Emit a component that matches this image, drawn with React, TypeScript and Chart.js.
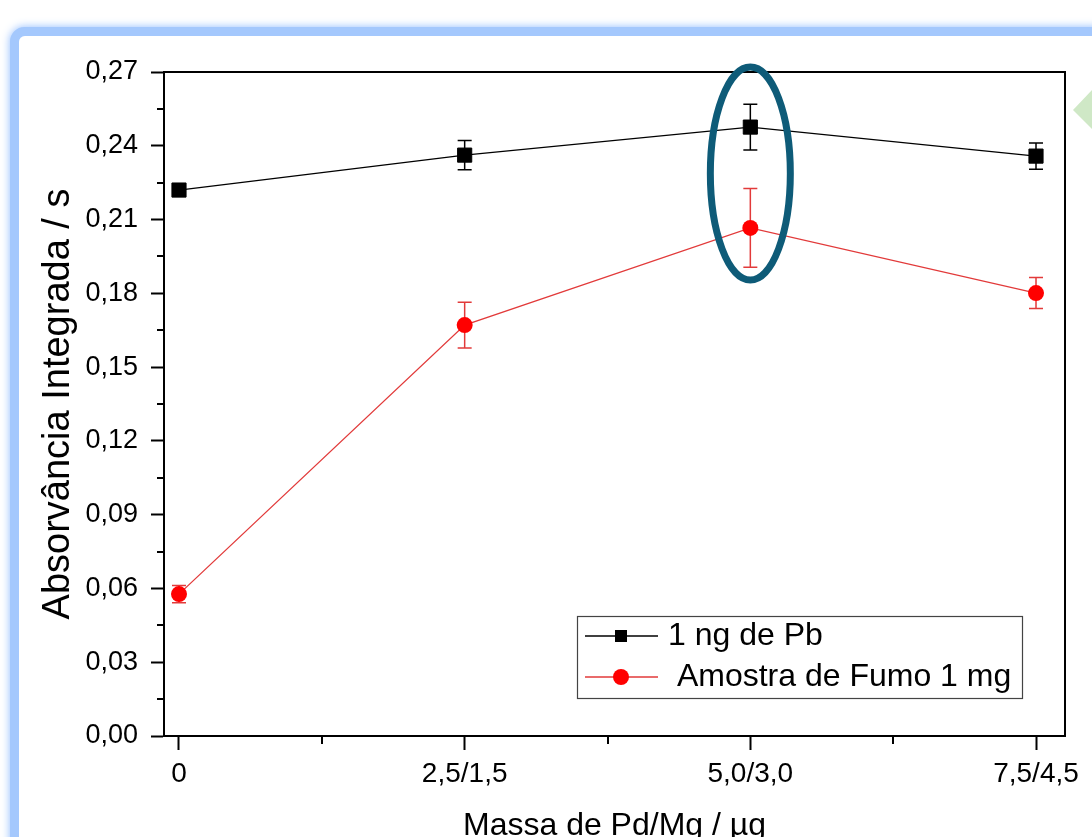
import React, { useEffect, useRef } from "react";
import { Chart, registerables } from "chart.js";

Chart.register(...registerables);

// ---- data ----
const categories = ["0", "2,5/1,5", "5,0/3,0", "7,5/4,5"];
const categoryPositions = [0, 1, 2, 3];
const xMinorTicks = [0.5, 1.5, 2.5];
const yTickValues = [0, 0.03, 0.06, 0.09, 0.12, 0.15, 0.18, 0.21, 0.24, 0.27];
const yTickLabels = ["0,00", "0,03", "0,06", "0,09", "0,12", "0,15", "0,18", "0,21", "0,24", "0,27"];
const yMinorTicks = [0.015, 0.045, 0.075, 0.105, 0.135, 0.165, 0.195, 0.225, 0.255];

const pbValues = [0.222, 0.2362, 0.2476, 0.2358];
const pbErrors = [0.001, 0.0059, 0.0093, 0.0053];
const fumoValues = [0.0577, 0.1671, 0.2066, 0.1801];
const fumoErrors = [0.0035, 0.0093, 0.016, 0.0063];

const seriesLabels = ["1 ng de Pb", " Amostra de Fumo 1 mg"];
const xTitle = "Massa de Pd/Mg / µg";
const yTitle = "Absorvância Integrada / s";

// highlighted point (ellipse annotation), in data units
const highlightX = 2;
const highlightY = 0.2287;
const highlightHalfWidth = 0.14;
const highlightHalfHeight = 0.0433;

const FONT = "'Liberation Sans', Arial, Helvetica, sans-serif";
const errorSets = [pbErrors, fumoErrors];
const errorColors = ["#000000", "#e23a3a"];

const decorPlugin = {
  id: "decor",
  beforeDraw(chart: any) {
    const ctx = chart.ctx;
    ctx.save();
    ctx.fillStyle = "#ffffff";
    ctx.fillRect(0, 0, chart.width, chart.height);
    // slide frame
    ctx.shadowColor = "rgba(130,180,255,0.9)";
    ctx.shadowBlur = 8;
    ctx.strokeStyle = "#a4c8fd";
    ctx.lineWidth = 9;
    ctx.beginPath();
    ctx.roundRect(14.5, 31.5, 1300, 1000, 10);
    ctx.stroke();
    ctx.shadowBlur = 0;
    ctx.shadowColor = "transparent";
    ctx.fillStyle = "#ffffff";
    ctx.beginPath();
    ctx.roundRect(19, 36, 1300, 1000, 6);
    ctx.fill();
    // green arrow at right edge
    ctx.fillStyle = "#cfe8c6";
    ctx.beginPath();
    ctx.moveTo(1073, 110);
    ctx.lineTo(1094, 88);
    ctx.lineTo(1094, 131);
    ctx.closePath();
    ctx.fill();
    ctx.restore();
  },
  beforeDatasetsDraw(chart: any) {
    const ctx = chart.ctx;
    const xs = chart.scales.x;
    const ys = chart.scales.y;
    ctx.save();
    chart.data.datasets.forEach((ds: any, i: number) => {
      const errs = errorSets[i];
      ctx.strokeStyle = errorColors[i];
      ctx.lineWidth = 1.5;
      ds.data.forEach((p: any, j: number) => {
        const x = xs.getPixelForValue(p.x);
        const yTop = ys.getPixelForValue(p.y + errs[j]);
        const yBot = ys.getPixelForValue(p.y - errs[j]);
        ctx.beginPath();
        ctx.moveTo(x, yTop);
        ctx.lineTo(x, yBot);
        ctx.moveTo(x - 7, yTop);
        ctx.lineTo(x + 7, yTop);
        ctx.moveTo(x - 7, yBot);
        ctx.lineTo(x + 7, yBot);
        ctx.stroke();
      });
    });
    ctx.restore();
  },
  afterDraw(chart: any) {
    const ctx = chart.ctx;
    const a = chart.chartArea;
    const xs = chart.scales.x;
    const ys = chart.scales.y;
    ctx.save();
    // plot frame
    ctx.strokeStyle = "#000";
    ctx.lineWidth = 2;
    ctx.strokeRect(a.left, a.top, a.right - a.left, a.bottom - a.top);
    // minor ticks
    ctx.beginPath();
    yMinorTicks.forEach((v) => {
      const y = Math.round(ys.getPixelForValue(v));
      ctx.moveTo(a.left - 7, y);
      ctx.lineTo(a.left, y);
    });
    xMinorTicks.forEach((v) => {
      const x = Math.round(xs.getPixelForValue(v));
      ctx.moveTo(x, a.bottom);
      ctx.lineTo(x, a.bottom + 8);
    });
    ctx.stroke();

    // legend box
    const lx = 577, ly = 616, lw = 445, lh = 82;
    ctx.fillStyle = "#fff";
    ctx.fillRect(lx, ly, lw, lh);
    ctx.strokeStyle = "#444";
    ctx.lineWidth = 1.2;
    ctx.strokeRect(lx + 0.5, ly + 0.5, lw, lh);
    const rows = [636, 677];
    chart.data.datasets.forEach((ds: any, i: number) => {
      const cy = rows[i];
      ctx.strokeStyle = ds.borderColor;
      ctx.lineWidth = 1.3;
      ctx.beginPath();
      ctx.moveTo(585, cy);
      ctx.lineTo(658, cy);
      ctx.stroke();
      ctx.fillStyle = ds.pointBackgroundColor;
      if (ds.pointStyle === "rect") {
        ctx.fillRect(615, cy - 6, 12, 12);
      } else {
        ctx.beginPath();
        ctx.arc(621, cy, 8, 0, Math.PI * 2);
        ctx.fill();
      }
      ctx.fillStyle = "#000";
      ctx.font = `32px ${FONT}`;
      ctx.textBaseline = "middle";
      ctx.textAlign = "left";
      ctx.fillText(ds.label, 668, cy);
    });

    // highlight ellipse
    const cx = xs.getPixelForValue(highlightX);
    const cy = ys.getPixelForValue(highlightY);
    const rx = Math.abs(xs.getPixelForValue(highlightX + highlightHalfWidth) - cx);
    const ry = Math.abs(ys.getPixelForValue(highlightY + highlightHalfHeight) - cy);
    ctx.strokeStyle = "#0e5b78";
    ctx.lineWidth = 7;
    ctx.beginPath();
    ctx.ellipse(cx, cy, rx, ry, 0, 0, Math.PI * 2);
    ctx.stroke();
    ctx.restore();
  },
};

export default function App() {
  const canvasRef = useRef<HTMLCanvasElement | null>(null);

  useEffect(() => {
    const canvas = canvasRef.current;
    if (!canvas) return;
    const chart = new Chart(canvas, {
      type: "line",
      data: {
        datasets: [
          {
            label: seriesLabels[0],
            data: categoryPositions.map((x, i) => ({ x, y: pbValues[i] })),
            borderColor: "#000000",
            backgroundColor: "#000000",
            borderWidth: 1.3,
            pointStyle: "rect",
            pointRadius: 10,
            pointBorderWidth: 1,
            pointBackgroundColor: "#000000",
            pointBorderColor: "#000000",
            tension: 0,
          },
          {
            label: seriesLabels[1],
            data: categoryPositions.map((x, i) => ({ x, y: fumoValues[i] })),
            borderColor: "#e23a3a",
            backgroundColor: "#ff0000",
            borderWidth: 1.3,
            pointStyle: "circle",
            pointRadius: 8,
            pointBorderWidth: 0,
            pointBackgroundColor: "#ff0000",
            pointBorderColor: "#ff0000",
            tension: 0,
          },
        ],
      },
      options: {
        responsive: false,
        maintainAspectRatio: false,
        animation: false,
        devicePixelRatio: 1,
        layout: { padding: { left: 0, top: 72, right: 27, bottom: 0 } },
        plugins: {
          legend: { display: false },
          tooltip: { enabled: false },
        },
        scales: {
          x: {
            type: "linear",
            min: -0.0525,
            max: 3.1015,
            afterBuildTicks: (s: any) => {
              s.ticks = categoryPositions.map((v) => ({ value: v }));
            },
            afterFit: (s: any) => {
              s.height = 101;
            },
            ticks: {
              callback: (v: any) => categories[categoryPositions.indexOf(v)] ?? "",
              font: { family: FONT, size: 28 },
              color: "#000",
              padding: 7,
              maxRotation: 0,
              autoSkip: false,
            },
            grid: {
              drawOnChartArea: false,
              drawTicks: true,
              tickLength: 14,
              tickColor: "#000",
              tickWidth: 2,
            },
            border: { display: true, color: "#000", width: 2 },
            title: {
              display: true,
              text: xTitle,
              font: { family: FONT, size: 32 },
              color: "#000",
              padding: { top: 0, bottom: -8 },
            },
          },
          y: {
            type: "linear",
            min: 0,
            max: 0.27,
            afterBuildTicks: (s: any) => {
              s.ticks = yTickValues.map((v) => ({ value: v }));
            },
            afterFit: (s: any) => {
              s.width = 164;
            },
            ticks: {
              callback: (v: any) => {
                const idx = yTickValues.findIndex((t) => Math.abs(t - v) < 1e-9);
                return idx >= 0 ? yTickLabels[idx] : "";
              },
              font: { family: FONT, size: 27 },
              color: "#000",
              padding: 13,
            },
            grid: {
              drawOnChartArea: false,
              drawTicks: true,
              tickLength: 13,
              tickColor: "#000",
              tickWidth: 2,
            },
            border: { display: true, color: "#000", width: 2 },
            title: {
              display: true,
              text: yTitle,
              font: { family: FONT, size: 38 },
              color: "#000",
              padding: { top: 36, bottom: 0 },
            },
          },
        },
      } as any,
      plugins: [decorPlugin],
    });
    return () => chart.destroy();
  }, []);

  return (
    <div style={{ position: "fixed", left: 0, top: 0, width: 1092, height: 837, background: "#fff", overflow: "hidden" }}>
      <canvas ref={canvasRef} width={1092} height={837} style={{ display: "block", width: 1092, height: 837 }} />
    </div>
  );
}
